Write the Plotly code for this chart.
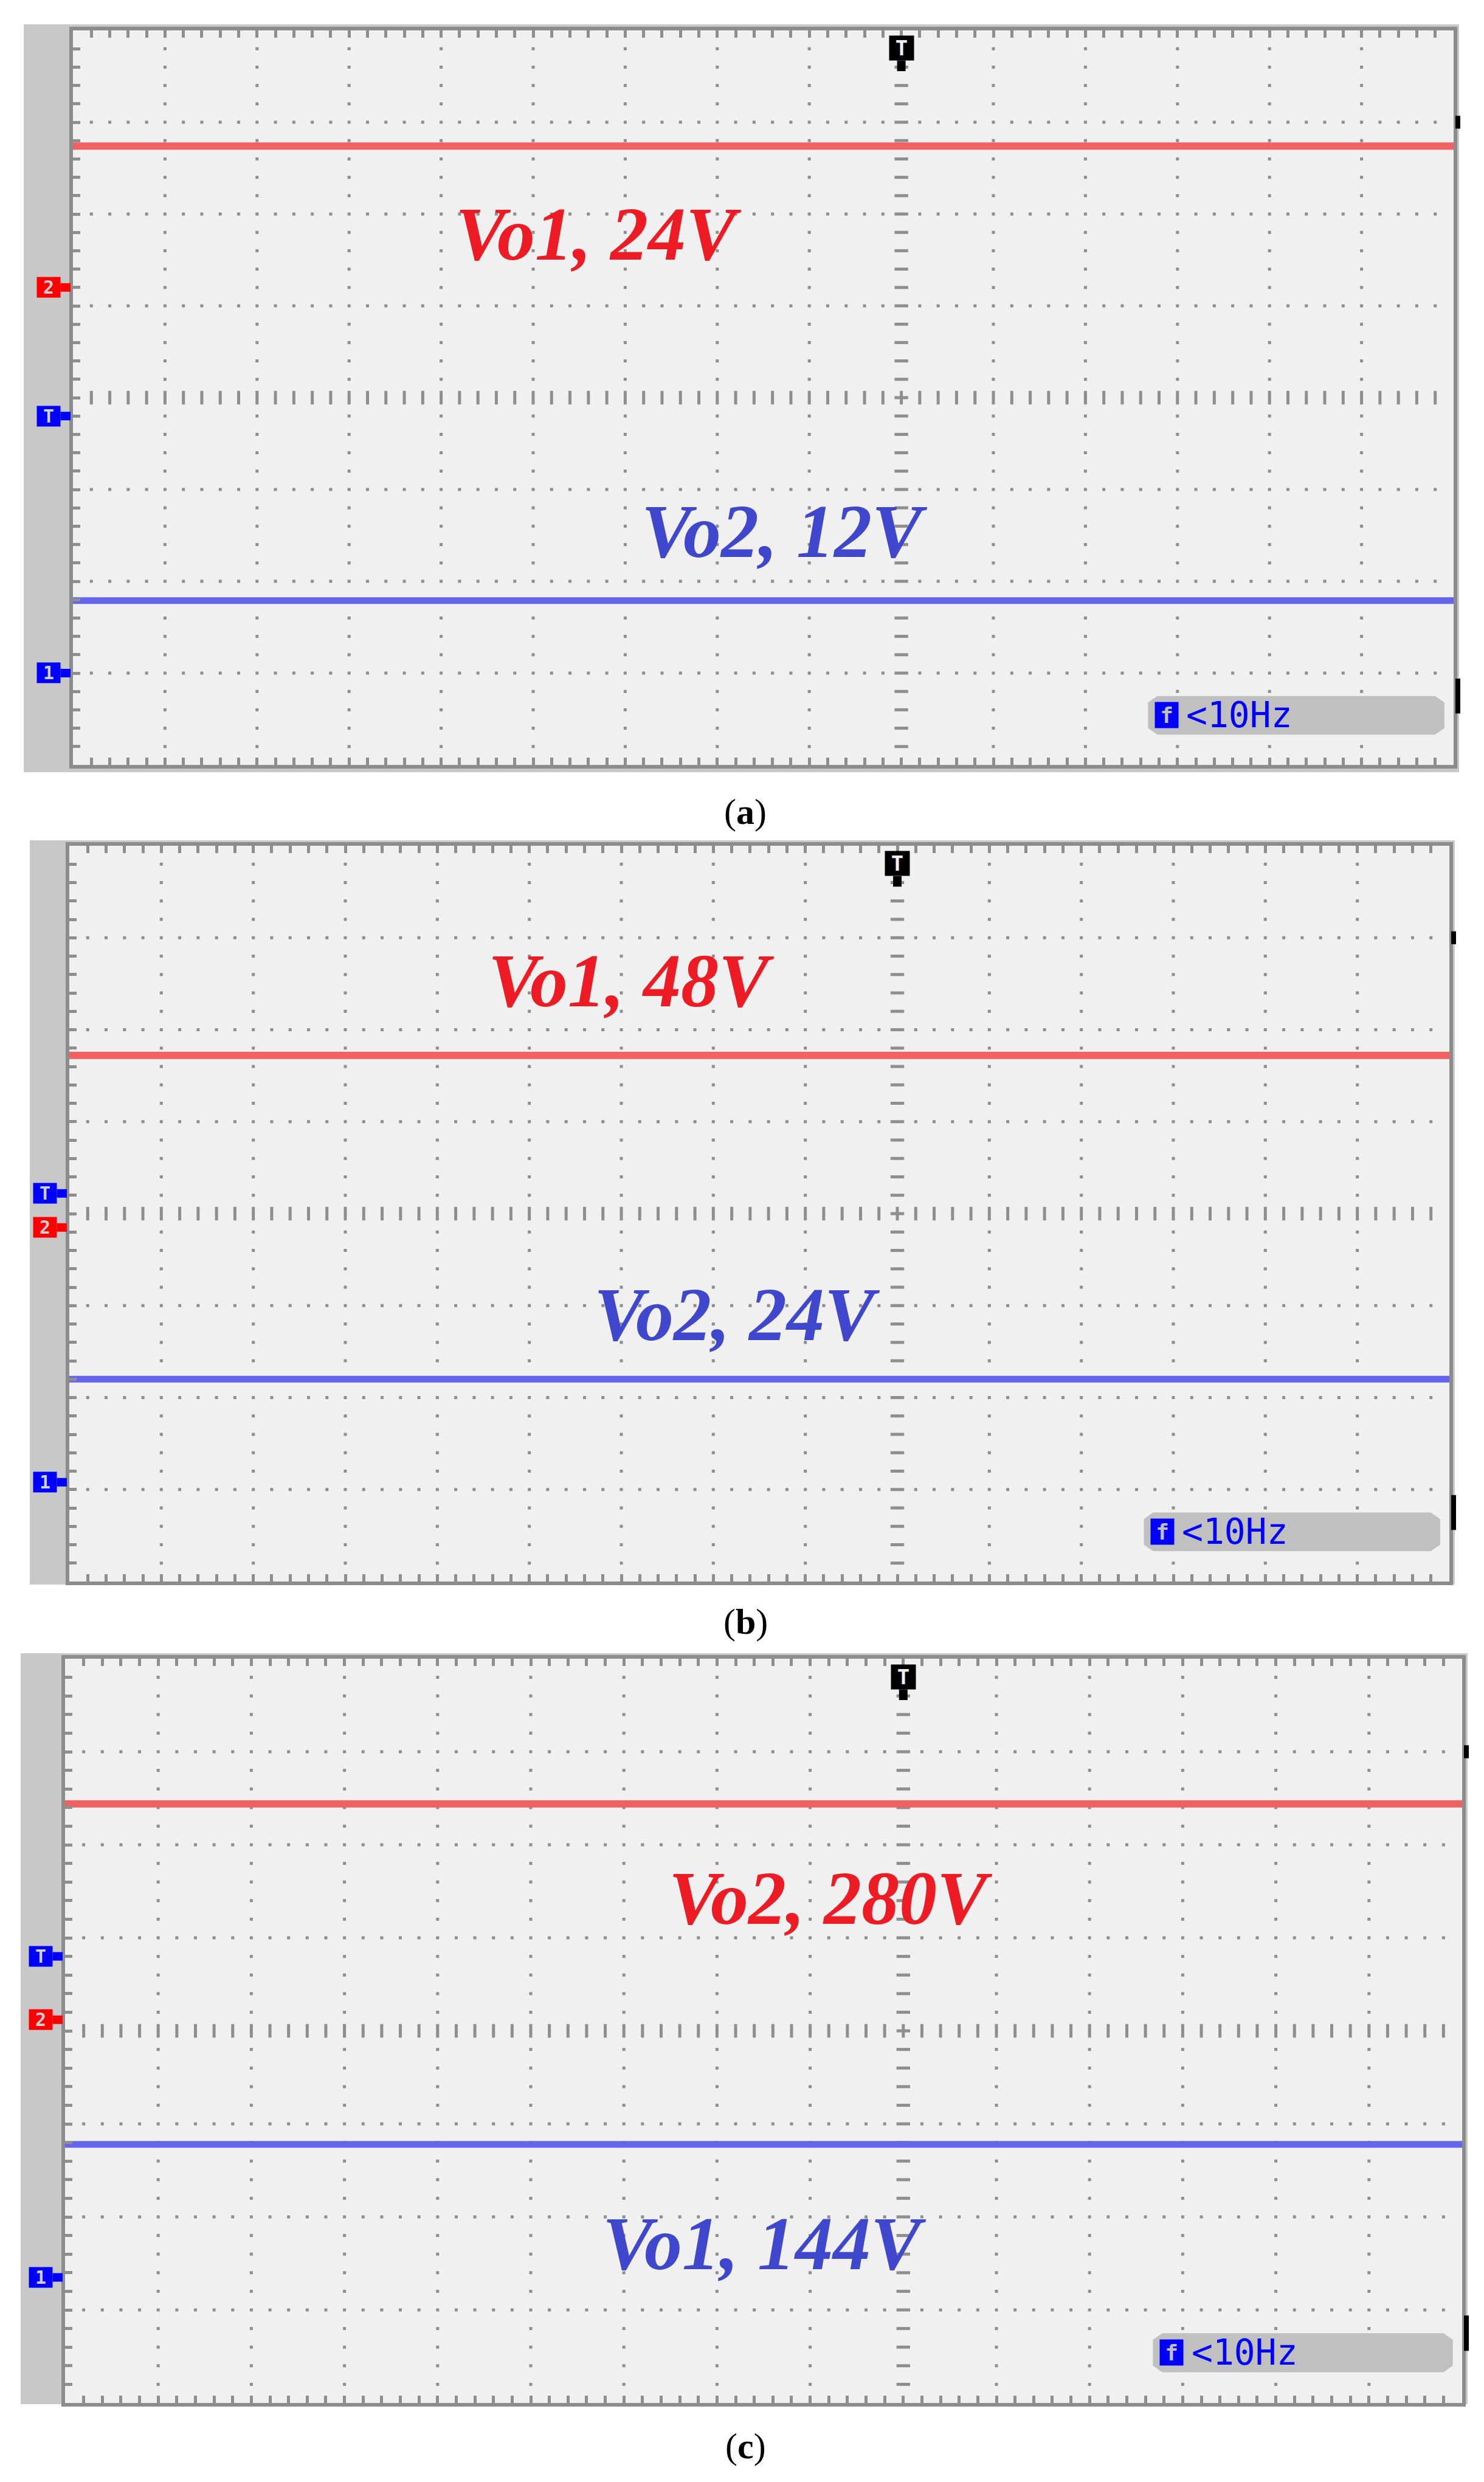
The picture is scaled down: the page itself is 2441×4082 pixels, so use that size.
import numpy as np
import plotly.graph_objects as go

W, H = 2441, 4082

# Scope readings, in screen divisions (0 = bottom edge of the screen)
captions = ["a", "b", "c"]
red_level = [6.74, 5.72, 6.44]       # red trace (CH2)
blue_level = [1.79, 2.20, 2.78]      # blue trace (CH1)
red_text = ["Vo1, 24V", "Vo1, 48V", "Vo2, 280V"]
blue_text = ["Vo2, 12V", "Vo2, 24V", "Vo1, 144V"]
ch1_ref = [1.0, 1.08, 1.35]          # "1" marker on the left strip
ch2_ref = [5.2, 3.85, 4.12]          # "2" marker
trig_ref = [3.8, 4.22, 4.8]          # "T" marker on the left strip
trig_pos = 9                         # horizontal trigger position
edge_marks = [7.0, 0.75]             # black bars on the right edge
time_span = [0, 15]                  # horizontal divisions
n_ydiv = 8
freq_text = "<10Hz"

# Screen geometry in pixels (left, top, right, bottom)
plot_px = [(112, 42, 2383, 1250), (106, 1383, 2376, 2593), (99, 2720, 2397, 3944)]
frame_px = [(31, 32, 2392, 1262), (41, 1374, 2385, 2598), (26, 2711, 2406, 3946)]
red_xy = [(5.71, 5.78), (6.11, 6.53), (8.22, 5.42)]
blue_xy = [(7.73, 2.54), (7.26, 2.90), (7.51, 1.71)]
caption_y = [1327, 2659, 4015]

RED_TRACE = "#f06262"
BLUE_TRACE = "#6464ee"
RED_TXT = "#ed1c24"
BLUE_TXT = "#3f48cc"
GRID = "#8e8e8e"

fig = go.Figure()
shapes = []
annotations = []

# grid dot positions (shared by all panels)
xs_minor = np.round(np.arange(1, 75) * 0.2, 3)
ys_minor = np.round(np.arange(1, n_ydiv * 5) * 0.2, 3)
dot_x, dot_y = [], []
for gx in range(1, time_span[1]):
    if gx == trig_pos:
        continue
    for yy in ys_minor:
        if abs(yy - n_ydiv / 2) < 1e-6:
            continue
        dot_x.append(gx)
        dot_y.append(yy)
for gy in range(1, n_ydiv):
    if gy == n_ydiv / 2:
        continue
    for xx in xs_minor:
        if abs(xx - round(xx)) < 1e-6:
            continue
        dot_x.append(xx)
        dot_y.append(gy)

for i in range(3):
    sfx = "" if i == 0 else str(i + 1)
    xa, ya = "x" + sfx, "y" + sfx
    l, t, r, b = plot_px[i]
    fl, ft, fr, fb = frame_px[i]

    axis_common = dict(
        showgrid=False, zeroline=False, showticklabels=False,
        ticks="inside", tick0=0, dtick=0.2, ticklen=12, tickwidth=5,
        tickcolor=GRID, showline=True, linewidth=6, linecolor="#8c8c8c",
        fixedrange=True,
    )
    fig.update_layout({
        "xaxis" + sfx: dict(axis_common, domain=[l / W, r / W], range=time_span,
                            anchor=ya, mirror="ticks"),
        "yaxis" + sfx: dict(axis_common, domain=[1 - b / H, 1 - t / H],
                            range=[0, n_ydiv], anchor=xa, mirror=True),
    })

    # screen frame and background
    shapes.append(dict(type="rect", xref="paper", yref="paper", layer="below",
                       x0=fl / W, x1=fr / W, y0=1 - fb / H, y1=1 - ft / H,
                       fillcolor="#c8c8c8", line=dict(width=0)))
    shapes.append(dict(type="rect", xref="paper", yref="paper", layer="below",
                       x0=l / W, x1=r / W, y0=1 - b / H, y1=1 - t / H,
                       fillcolor="#f0f0f0", line=dict(width=0)))

    # dotted graticule
    fig.add_trace(go.Scatter(
        x=dot_x, y=dot_y, xaxis=xa, yaxis=ya, mode="markers", hoverinfo="skip",
        marker=dict(symbol="square", size=5, color=GRID, line=dict(width=0)),
        showlegend=False))
    fig.add_trace(go.Scatter(
        x=xs_minor, y=[n_ydiv / 2] * len(xs_minor), xaxis=xa, yaxis=ya,
        mode="markers", hoverinfo="skip",
        marker=dict(symbol="line-ns", size=16, line=dict(width=5, color=GRID)),
        showlegend=False))
    fig.add_trace(go.Scatter(
        x=[trig_pos] * len(ys_minor), y=ys_minor, xaxis=xa, yaxis=ya,
        mode="markers", hoverinfo="skip",
        marker=dict(symbol="line-ew", size=16, line=dict(width=5, color=GRID)),
        showlegend=False))

    # traces
    fig.add_trace(go.Scatter(
        x=time_span, y=[red_level[i]] * 2, xaxis=xa, yaxis=ya, mode="lines",
        line=dict(color=RED_TRACE, width=12), hoverinfo="skip", showlegend=False))
    fig.add_trace(go.Scatter(
        x=time_span, y=[blue_level[i]] * 2, xaxis=xa, yaxis=ya, mode="lines",
        line=dict(color=BLUE_TRACE, width=11), hoverinfo="skip", showlegend=False))

    # black bars at the right edge
    for lvl, half in zip(edge_marks, [0.07, 0.19]):
        shapes.append(dict(type="line", xref="paper", yref=ya, layer="above",
                           x0=(r + 7) / W, x1=(r + 7) / W, y0=lvl - half, y1=lvl + half,
                           line=dict(color="black", width=8)))

    # channel / trigger tags on the left strip
    tip = (l - 4) / W
    for txt, col, lvl in [("2", "#ff0000", ch2_ref[i]), ("T", "#0000ff", trig_ref[i]),
                          ("1", "#0000ff", ch1_ref[i])]:
        annotations.append(dict(
            xref="paper", yref=ya, x=tip, y=lvl, text=f"<b>{txt}</b>",
            showarrow=True, ax=-36, ay=0, arrowcolor=col, arrowwidth=14,
            arrowhead=0, standoff=0, bgcolor=col, width=38, height=33, borderpad=0,
            font=dict(family="DejaVu Sans Mono", size=30, color="#d0d0d0")))

    # trigger position tag at the top
    annotations.append(dict(
        xref=xa, yref=ya, x=trig_pos, y=n_ydiv - 0.444, text="<b>T</b>",
        showarrow=True, ax=0, ay=-38, arrowcolor="black", arrowwidth=14,
        arrowhead=0, standoff=0, bgcolor="black", width=40, height=40, borderpad=0,
        font=dict(family="DejaVu Sans Mono", size=34, color="#f0f0f0")))

    # frequency read-out box
    x0, x1, y0, y1, cx, cy = 11.68, 14.9, 0.33, 0.75, 0.1, 0.07
    shapes.append(dict(
        type="path", xref=xa, yref=ya, layer="above", fillcolor="#c0c0c0",
        line=dict(width=0),
        path=(f"M{x0 + cx},{y0} L{x1 - cx},{y0} L{x1},{y0 + cy} L{x1},{y1 - cy} "
              f"L{x1 - cx},{y1} L{x0 + cx},{y1} L{x0},{y1 - cy} L{x0},{y0 + cy} Z")))
    annotations.append(dict(
        xref=xa, yref=ya, x=11.88, y=0.54, text="<b>f</b>", showarrow=False,
        bgcolor="#0000ff", width=38, height=42, borderpad=0,
        font=dict(family="DejaVu Sans Mono", size=36, color="#c0c0c0")))
    annotations.append(dict(
        xref=xa, yref=ya, x=12.08, y=0.54, xanchor="left", text=freq_text,
        showarrow=False, font=dict(family="DejaVu Sans Mono", size=58, color="#0000ff")))

    # voltage labels
    annotations.append(dict(
        xref=xa, yref=ya, x=red_xy[i][0], y=red_xy[i][1], text=red_text[i],
        showarrow=False,
        font=dict(family="Liberation Serif", size=124, color=RED_TXT,
                  style="italic", weight="bold")))
    annotations.append(dict(
        xref=xa, yref=ya, x=blue_xy[i][0], y=blue_xy[i][1], text=blue_text[i],
        showarrow=False,
        font=dict(family="Liberation Serif", size=124, color=BLUE_TXT,
                  style="italic", weight="bold")))

    # caption
    annotations.append(dict(
        xref="paper", yref="paper", x=1218 / W, y=1 - caption_y[i] / H,
        xanchor="center", yanchor="middle",
        text=f"(<b>{captions[i]}</b>)", showarrow=False,
        font=dict(family="Liberation Serif", size=60, color="black")))

fig.update_layout(
    width=W, height=H,
    margin=dict(l=0, r=0, t=0, b=0),
    paper_bgcolor="white",
    plot_bgcolor="#f0f0f0",
    showlegend=False,
    shapes=shapes,
    annotations=annotations,
)

fig.write_html("out.html")
